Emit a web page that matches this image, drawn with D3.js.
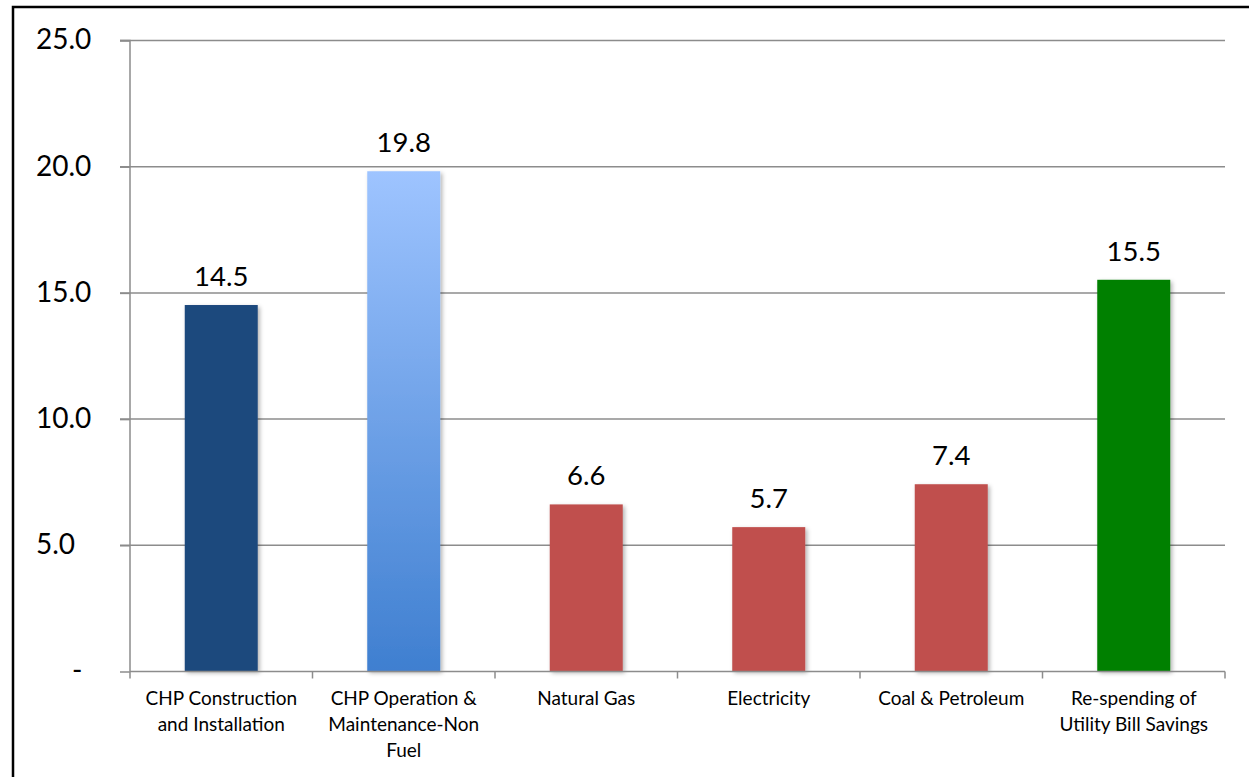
<!DOCTYPE html>
<html>
<head>
<meta charset="utf-8">
<script src="https://cdn.jsdelivr.net/npm/d3@7"></script>
<style>
  html, body { margin: 0; padding: 0; background: #fff; }
  svg { display: block; }
  text { font-family: Lato, "Open Sans", sans-serif; fill: #000; }
</style>
</head>
<body>
<svg id="chart" width="1249" height="777"></svg>
<script>
const categories = [
  ["CHP Construction", "and Installation"],
  ["CHP Operation &", "Maintenance-Non", "Fuel"],
  ["Natural Gas"],
  ["Electricity"],
  ["Coal & Petroleum"],
  ["Re-spending of", "Utility Bill Savings"]
];
const values = [14.5, 19.8, 6.6, 5.7, 7.4, 15.5];
const barColors = ["#1F497D", "url(#blueGrad)", "#C0504D", "#C0504D", "#C0504D", "#008000"];
const yTicks = [0, 5, 10, 15, 20, 25];
const yTickLabels = ["-", "5.0", "10.0", "15.0", "20.0", "25.0"];

(function () {
const svg = d3.select("#chart");
const W = 1249, H = 777;

// outer frame
svg.append("rect").attr("x", 13).attr("y", 7).attr("width", W + 10).attr("height", H + 10)
  .attr("fill", "#fff").attr("stroke", "#000").attr("stroke-width", 2.5);

const defs = svg.append("defs");
const g1 = defs.append("linearGradient").attr("id", "blueGrad")
  .attr("x1", 0).attr("y1", 0).attr("x2", 0).attr("y2", 1);
g1.append("stop").attr("offset", "0%").attr("stop-color", "#9EC4FF");
g1.append("stop").attr("offset", "100%").attr("stop-color", "#3F7FD0");
const f = defs.append("filter").attr("id", "shadow").attr("x", "-20%").attr("y", "-5%")
  .attr("width", "150%").attr("height", "115%");
f.append("feDropShadow").attr("dx", 2).attr("dy", 2).attr("stdDeviation", 2)
  .attr("flood-color", "#000").attr("flood-opacity", 0.3);

const pLeft = 130, pRight = 1225, pTop = 40, pBottom = 671;

const x = d3.scaleBand().domain(d3.range(categories.length)).range([pLeft, pRight])
  .paddingInner(0.6).paddingOuter(0.3);
const xOuter = d3.scaleBand().domain(d3.range(categories.length)).range([pLeft, pRight]);
const y = d3.scaleLinear().domain([0, 25]).range([pBottom, pTop]);

// gridlines
svg.append("g").selectAll("line").data(yTicks.filter(d => d > 0)).join("line")
  .attr("x1", 120).attr("x2", pRight)
  .attr("y1", d => y(d) + 0.5).attr("y2", d => y(d) + 0.5)
  .attr("stroke", "#8C8C8C").attr("stroke-width", 1.5);

// y axis
const yAxis = d3.axisLeft(y).tickValues(yTicks).tickFormat((d, i) => yTickLabels[i])
  .tickSize(10).tickPadding(28);
const ya = svg.append("g").attr("transform", `translate(${pLeft},0)`).call(yAxis);
ya.select(".domain").attr("stroke", "#8C8C8C").attr("stroke-width", 1.5).attr("d", `M-10,${pTop + 0.5}H0V${pBottom + 0.5}`);
ya.selectAll(".tick line").attr("stroke", "#8C8C8C").attr("stroke-width", 1.5).attr("transform", "translate(0,0.5)");
ya.selectAll(".tick text").attr("font-size", 28).attr("font-family", "Lato, sans-serif").attr("fill", "#000")
  .attr("text-anchor", "start")
  .attr("x", d => d === 0 ? 72 - pLeft : 36 - pLeft);

// bars
svg.append("g").selectAll("rect").data(values).join("rect")
  .attr("x", (d, i) => x(i)).attr("width", x.bandwidth())
  .attr("y", d => y(d)).attr("height", d => y(0) - y(d))
  .attr("fill", (d, i) => barColors[i])
  .attr("filter", "url(#shadow)");

// x axis
const xAxis = d3.axisBottom(xOuter).tickSize(0).tickFormat("");
const xa = svg.append("g").attr("transform", `translate(0,${pBottom + 0.5})`).call(xAxis);
xa.select(".domain").attr("stroke", "#8C8C8C").attr("stroke-width", 1.5).attr("d", `M${pLeft},0H${pRight}`);
xa.selectAll(".tick").remove();
const boundaries = d3.range(categories.length + 1).map(i => i < categories.length ? xOuter(i) : pRight);
xa.selectAll(".bnd").data(boundaries).join("line").attr("class", "bnd")
  .attr("x1", d => d).attr("x2", d => d).attr("y1", 0).attr("y2", 7)
  .attr("stroke", "#8C8C8C").attr("stroke-width", 1.5);

// category labels
const lab = svg.append("g").selectAll("text").data(categories).join("text")
  .attr("text-anchor", "middle").attr("font-size", 19);
lab.each(function(lines, i) {
  const t = d3.select(this);
  lines.forEach((ln, j) => {
    t.append("tspan").attr("x", xOuter(i) + xOuter.bandwidth() / 2)
      .attr("y", 705 + j * 26).text(ln);
  });
});

// value labels
svg.append("g").selectAll("text").data(values).join("text")
  .attr("x", (d, i) => x(i) + x.bandwidth() / 2)
  .attr("y", d => y(d) - 19)
  .attr("text-anchor", "middle").attr("font-size", 27.5)
  .text(d => d.toFixed(1));
})();
</script>
</body>
</html>
